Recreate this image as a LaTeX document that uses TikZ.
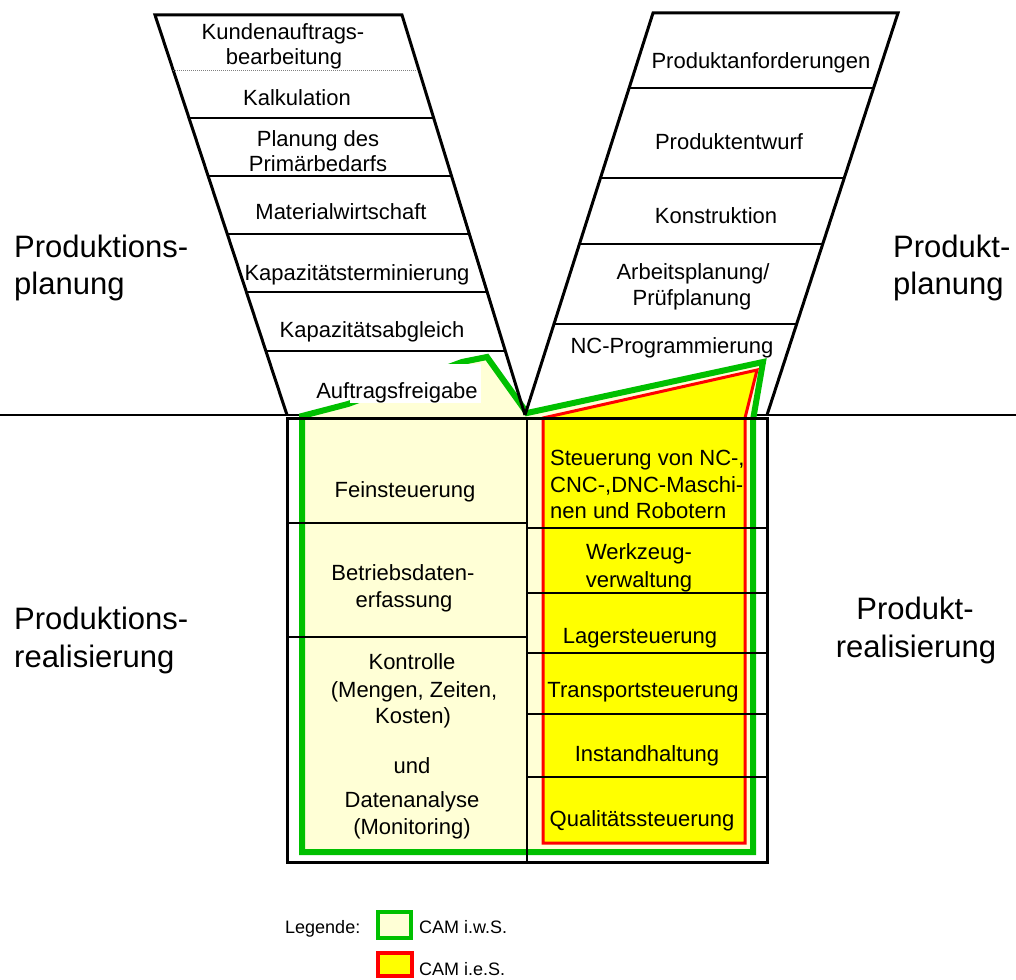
\documentclass[tikz,border=0pt]{standalone}
\usepackage{fontspec}
\setmainfont{Liberation Sans}
\definecolor{camgreen}{RGB}{0,192,0}
\definecolor{camred}{RGB}{255,0,0}
\definecolor{camyellow}{RGB}{255,255,0}
\definecolor{campale}{RGB}{255,255,214}
\begin{document}
\begin{tikzpicture}[x=1pt,y=-1pt,
  rowtxt/.style={font=\fontsize{22}{26}\selectfont, anchor=base, inner sep=0pt},
  rowtxtl/.style={rowtxt, anchor=base west},
  sidetxt/.style={font=\fontsize{31}{36}\selectfont, inner sep=0pt},
  legtxt/.style={font=\fontsize{18}{21}\selectfont, anchor=base west, inner sep=0pt},
  outline/.style={line width=3pt, line join=miter},
  rowline/.style={line width=1.6pt},
  camwide/.style={draw=camgreen, line width=6pt, fill=campale},
  camnarrow/.style={draw=camred, line width=3pt, fill=camyellow}]

\useasboundingbox (0,0) rectangle (1016,979);
\fill[white] (0,0) rectangle (1016,979);

% base line
\draw[line width=1.4pt] (0,415) -- (1016,415);

% CAM regions
\draw[camwide] (302,852) -- (302,416) -- (348,404) -- (462,362) -- (487,357) -- (527,413) -- (763,362) -- (753,420) -- (753,852) -- cycle;
\draw[camnarrow] (543,843) -- (543,418) -- (757,370) -- (745,418) -- (745,843) -- cycle;
\fill[white] (350,364) rectangle (481,403);

% left parallelogram (Produktionsplanung)
\draw[outline] (287,415) -- (155,15) -- (402,15) -- (525,415);
\draw[gray, line width=1pt, densely dotted] (173.4,70.7) -- (419.2,70.7);
\draw[rowline] (189.1,118) -- (433.8,118);
\draw[rowline] (208.3,176) -- (451.6,176);
\draw[rowline] (227.4,234) -- (469.5,234);
\draw[rowline] (246.6,292) -- (487.4,292);
\draw[rowline] (266.2,351) -- (505.6,351);

% right parallelogram (Produktplanung)
\draw[outline] (525,415) -- (653,13) -- (898,13) -- (767,415);
\draw[rowline] (629.2,88) -- (873.6,88);
\draw[rowline] (600.6,178) -- (844.4,178);
\draw[rowline] (579.6,244) -- (822.9,244);
\draw[rowline] (554.2,324) -- (796.9,324);

% lower box
\draw[outline] (287,418) rectangle (767,862);
\draw[line width=2.5pt] (527,418) -- (527,862);
\draw[rowline] (287,523) -- (527,523);
\draw[rowline] (287,637) -- (527,637);
\draw[rowline] (527,528) -- (767,528);
\draw[rowline] (527,593) -- (767,593);
\draw[rowline] (527,653) -- (767,653);
\draw[rowline] (527,714) -- (767,714);
\draw[rowline] (527,777) -- (767,777);

% texts left parallelogram
\node[rowtxt] (l1a) at (283,40) {Kundenauftrags-};
\node[rowtxt] (l1b) at (284,65) {bearbeitung};
\node[rowtxt] (l2) at (297,106) {Kalkulation};
\node[rowtxt] (l3a) at (318,146) {Planung des};
\node[rowtxt] (l3b) at (318,171) {Primärbedarfs};
\node[rowtxt] (l4) at (341,219) {Materialwirtschaft};
\node[rowtxt] (l5) at (357,280) {Kapazitätsterminierung};
\node[rowtxt] (l6) at (372,337) {Kapazitätsabgleich};
\node[rowtxt] (l7) at (397,398) {Auftragsfreigabe};

% texts right parallelogram
\node[rowtxt] (r1) at (761,69) {Produktanforderungen};
\node[rowtxt] (r2) at (729,149) {Produktentwurf};
\node[rowtxt] (r3) at (716,223) {Konstruktion};
\node[rowtxt] (r4a) at (693,279) {Arbeitsplanung/};
\node[rowtxt] (r4b) at (692,305) {Prüfplanung};
\node[rowtxt] (r5) at (672,353) {NC-Programmierung};

% texts left column
\node[rowtxt] (b1) at (405,497) {Feinsteuerung};
\node[rowtxt] (b2a) at (403,580) {Betriebsdaten-};
\node[rowtxt] (b2b) at (404,607) {erfassung};
\node[rowtxt] (b3a) at (412,669) {Kontrolle};
\node[rowtxt] (b3b) at (414,697) {(Mengen, Zeiten,};
\node[rowtxt] (b3c) at (413,723) {Kosten)};
\node[rowtxt] (b3d) at (412,773) {und};
\node[rowtxt] (b3e) at (412,807) {Datenanalyse};
\node[rowtxt] (b3f) at (412,834) {(Monitoring)};

% texts right column
\node[rowtxtl] (c1a) at (550,465) {Steuerung von NC-,};
\node[rowtxtl] (c1b) at (550,492) {CNC-,DNC-Maschi-};
\node[rowtxtl] (c1c) at (550,518) {nen und Robotern};
\node[rowtxt] (c2a) at (639,559) {Werkzeug-};
\node[rowtxt] (c2b) at (639,587) {verwaltung};
\node[rowtxt] (c3) at (640,643) {Lagersteuerung};
\node[rowtxt] (c4) at (643,697) {Transportsteuerung};
\node[rowtxt] (c5) at (647,761) {Instandhaltung};
\node[rowtxt] (c6) at (642,826) {Qualitätssteuerung};

% side labels
\node[sidetxt, anchor=base west] (s1a) at (14,257) {Produktions-};
\node[sidetxt, anchor=base west] (s1b) at (14,294) {planung};
\node[sidetxt, anchor=base west] (s2a) at (893,257) {Produkt-};
\node[sidetxt, anchor=base west] (s2b) at (893,294) {planung};
\node[sidetxt, anchor=base west] (s3a) at (14,629) {Produktions-};
\node[sidetxt, anchor=base west] (s3b) at (14,667) {realisierung};
\node[sidetxt, anchor=base] (s4a) at (915,619) {Produkt-};
\node[sidetxt, anchor=base] (s4b) at (916,657) {realisierung};

% legend
\node[legtxt] (leg) at (285,933) {Legende:};
\draw[draw=camgreen, line width=4pt, fill=campale] (378,912) rectangle (411,938);
\node[legtxt] (legw) at (419,933) {CAM i.w.S.};
\draw[draw=camred, line width=4pt, fill=camyellow] (378,953) rectangle (412,976);
\node[legtxt] (lege) at (419,975) {CAM i.e.S.};
\end{tikzpicture}
\end{document}
